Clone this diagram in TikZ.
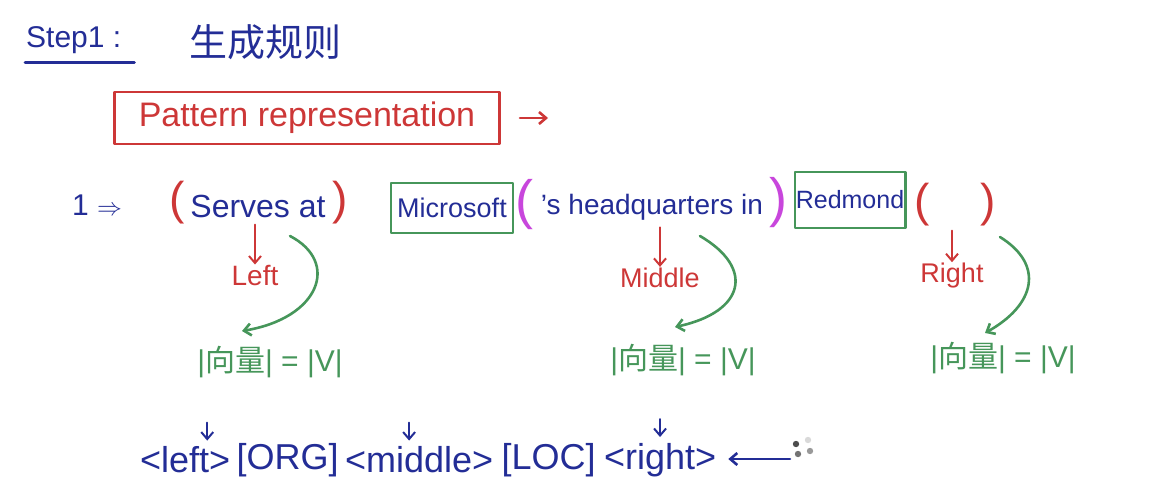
\documentclass[tikz,border=0pt]{standalone}
\usepackage{fontspec}
\setmainfont{Liberation Sans}
\newfontfamily\cjk{Noto Sans CJK SC}
\usetikzlibrary{arrows.meta}
\definecolor{hblue}{RGB}{35,45,150}
\definecolor{hred}{RGB}{205,55,55}
\definecolor{hgreen}{RGB}{70,150,90}
\definecolor{hmag}{RGB}{200,70,220}
\newcommand\fsz[1]{\fontsize{#1}{#1}\selectfont}
\tikzset{
  pen/.style={line width=2.6pt, line cap=round, line join=round},
  thinpen/.style={line width=2pt, line cap=round, line join=round},
  tip/.style={-{Straight Barb[length=7pt,width=12pt]}},
  btxt/.style={text=hblue, inner sep=1pt},
  rtxt/.style={text=hred, inner sep=1pt},
  gtxt/.style={text=hgreen, inner sep=1pt},
  gbox/.style={draw=hgreen, pen, inner sep=4pt},
  par/.style={inner sep=0pt, font=\fsz{46}},
  tpl/.style={btxt, font=\fsz{36}, anchor=west, inner sep=0pt}
}
\begin{document}
\begin{tikzpicture}[x=1pt,y=-1pt]
\useasboundingbox (0,0) rectangle (1154,501);
% title
\node[btxt, anchor=west, font=\fsz{30}] (step) at (25,40) {Step1 :};
\draw[hblue, pen] ([yshift=-8pt]step.south west) -- ([yshift=-8pt,xshift=12pt]step.south east);
\node[btxt, font=\cjk\fsz{38}] (title) at (265,42) {生成规则};
% pattern representation
\node[draw=hred, pen, rtxt, font=\fsz{34}, minimum width=385pt, minimum height=52pt] (pat) at (307,118) {Pattern representation};
\coordinate (pa) at (520,118);
\draw[hred, pen, tip] (pa) -- ++(28,0);
% sentence line
\node[btxt, font=\fsz{30}] (one) at (97,205) {1 $\Rightarrow$};
\node[par, text=hred] (lp1) at (177,203) {(};
\node[btxt, font=\fsz{32}] (serves) at (258,206) {Serves at};
\node[par, text=hred] (rp1) at (340,203) {)};
\node[gbox, btxt, font=\fsz{27}, minimum width=122pt, minimum height=50pt] (ms) at (452,208) {Microsoft};
\node[par, text=hmag, font=\fsz{54}] (lp2) at (524,205) {(};
\node[btxt, font=\fsz{28}] (hq) at (652,207) {'s headquarters in};
\node[par, text=hmag, font=\fsz{54}] (rp2) at (778,203) {)};
\node[gbox, btxt, font=\fsz{25}, minimum width=108pt, minimum height=56pt] (rd) at (850,200) {Redmond};
\node[par, text=hred] (lp3) at (922,205) {(};
\node[par, text=hred] (rp3) at (988,205) {)};
% left / middle / right
\node[rtxt, font=\fsz{28}] (left) at (255,276) {Left};
\node[rtxt, font=\fsz{27}] (middle) at (660,278) {Middle};
\node[rtxt, font=\fsz{27}] (right) at (952,276) {Right};
\draw[hred, thinpen, tip] (left.north |- serves.south) ++(0,6) -- (left.north);
\draw[hred, thinpen, tip] (middle.north |- hq.south) ++(0,6) -- (middle.north);
\draw[hred, thinpen, tip] (right.north |- rp3.south) ++(0,4) -- (right.north);
% vector size
\node[gtxt, font=\fsz{30}] (v1) at (270,362) {|{\cjk 向量}| = |V|};
\node[gtxt, font=\fsz{30}] (v2) at (683,360) {|{\cjk 向量}| = |V|};
\node[gtxt, font=\fsz{30}] (v3) at (1003,358) {|{\cjk 向量}| = |V|};
\coordinate (g1) at (290,236);
\coordinate (g2) at (700,236);
\coordinate (g3) at (1000,237);
\draw[hgreen, pen, tip] (g1) .. controls (340,262) and (320,318) .. ([xshift=-28pt,yshift=14pt]v1.north);
\draw[hgreen, pen, tip] (g2) .. controls (755,268) and (745,312) .. ([xshift=-8pt,yshift=16pt]v2.north);
\draw[hgreen, pen, tip] (g3) .. controls (1045,265) and (1035,305) .. ([xshift=-18pt,yshift=8pt]v3.north);
% template
\node[tpl] (bl) at (140,460) {<left>};
\node[tpl] (org) at ([xshift=6pt]bl.east) {[ORG]};
\node[tpl] (bm) at ([xshift=6pt]org.east) {<middle>};
\node[tpl] (loc) at ([xshift=8pt]bm.east) {[LOC]};
\node[tpl] (br) at ([xshift=8pt]loc.east) {<right>};
\draw[hblue, thinpen, tip] ([xshift=22pt,yshift=24pt]bl.north) -- ([xshift=22pt,yshift=6pt]bl.north);
\draw[hblue, thinpen, tip] ([xshift=-10pt,yshift=24pt]bm.north) -- ([xshift=-10pt,yshift=6pt]bm.north);
\draw[hblue, thinpen, tip] ([yshift=24pt]br.north) -- ([yshift=6pt]br.north);
\coordinate (spin) at (790,459);
\draw[hblue, pen, tip] (spin) -- ([xshift=12pt]br.east |- spin);
\fill[black!70] (796,444) circle (3.2pt);
\fill[black!15] (808,440) circle (3.2pt);
\fill[black!40] (810,451) circle (3.2pt);
\fill[black!55] (798,454) circle (3.2pt);
\end{tikzpicture}
\end{document}
